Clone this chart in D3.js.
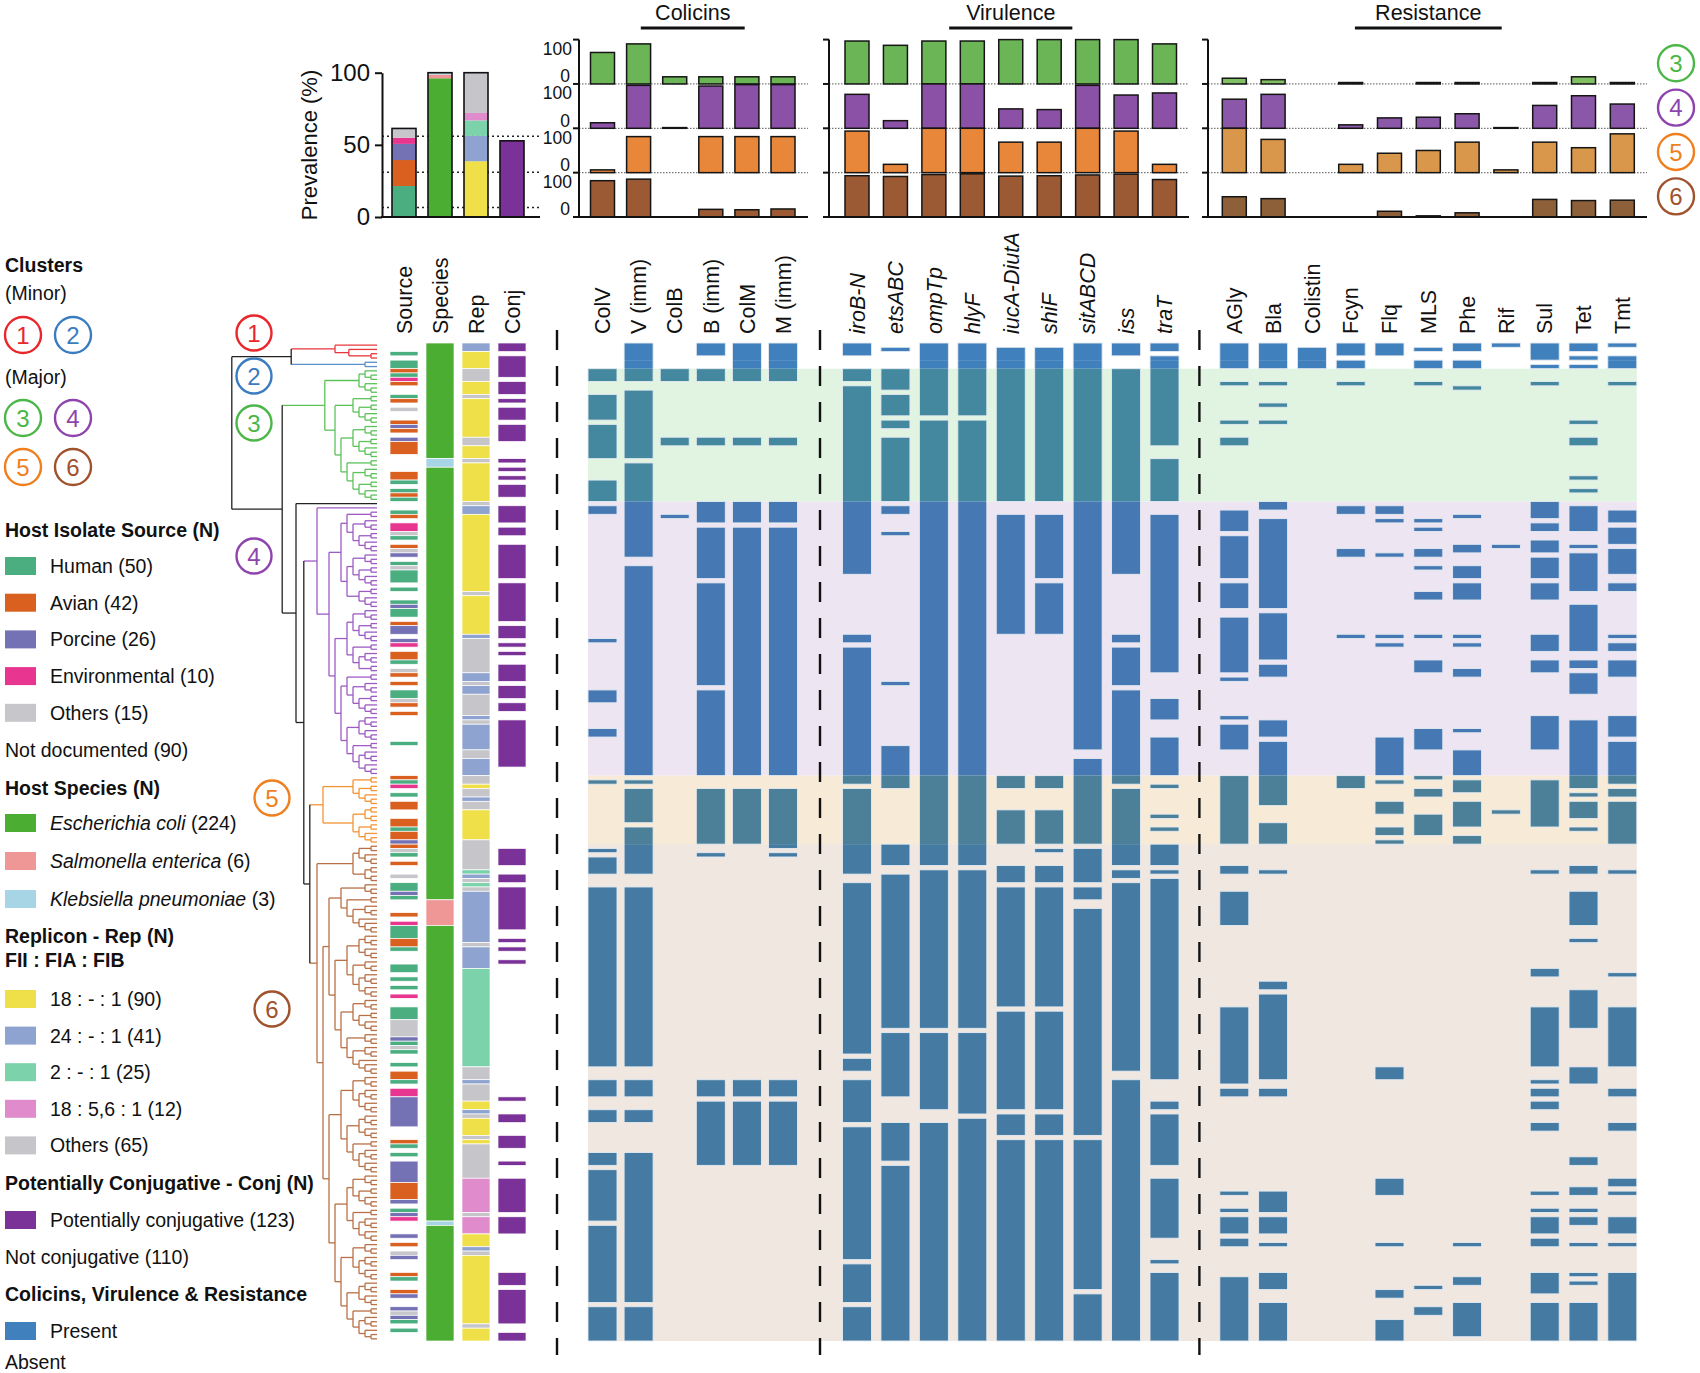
<!DOCTYPE html>
<meta charset="utf-8">
<style>
body { margin: 0; background: #fff; }
text { font-family: 'Liberation Sans', Arial, Helvetica, sans-serif; fill: #111; }
.lg { font-size: 19.5px; }
.hd { font-size: 19.5px; font-weight: bold; }
.col { font-size: 21.5px; }
</style>
<body>
<script src="https://d3js.org/d3.v7.min.js"></script>
<script>
// ---------- data ----------
const nRows = 233;
const clusterBreaks = [0, 4, 6, 37, 101, 117, 233];   // rows of clusters 1..6
const majorClusters = [2, 3, 4, 5];                    // clusters 3..6 in the bar panels

const sourceCats = ["Human", "Avian", "Porcine", "Environmental", "Others"];
const sourceCounts = [50, 42, 26, 10, 15];
const sourceCodes = ["H", "A", "P", "E", "O"];
const speciesCats = ["Escherichia coli", "Salmonella enterica", "Klebsiella pneumoniae"];
const speciesCounts = [224, 6, 3];
const speciesCodes = ["E", "S", "K"];
const repCats = ["18 : - : 1", "24 : - : 1", "2 : - : 1", "18 : 5,6 : 1", "Others"];
const repCounts = [90, 41, 25, 12, 65];
const repCodes = ["Y", "B", "M", "P", "O"];
const conjCount = 123, notConjCount = 110, notDocCount = 90;
const prevDotted = [56, 31, 6.5];

const annotCols = ["Source", "Species", "Rep", "Conj"];
const colicinCols = ["ColV", "V (imm)", "ColB", "B (imm)", "ColM", "M (imm)"];
const virulenceCols = ["iroB-N", "etsABC", "ompTp", "hlyF", "iucA-DiutA", "shiF", "sitABCD", "iss", "traT"];
const resistanceCols = ["AGly", "Bla", "Colistin", "Fcyn", "Flq", "MLS", "Phe", "Rif", "Sul", "Tet", "Tmt"];

// annotation columns: [code, firstRow, endRow)
const sourceRuns = [
 ["H",2,3],["H",4,6],["A",6,7],["H",7,8],["E",8,9],["A",9,10],["H",12,13],["A",13,14],["O",15,16],
 ["A",18,19],["P",19,20],["A",20,21],["P",22,23],["A",23,26],["A",30,32],["H",32,33],["H",34,35],
 ["A",35,36],["H",36,37],["H",39,40],["A",40,41],["E",42,44],["O",44,45],["H",45,46],["A",47,48],
 ["O",48,49],["P",49,50],["H",51,52],["O",52,53],["H",53,56],["H",57,58],["H",60,61],["P",61,62],
 ["H",62,64],["A",65,66],["P",66,68],["P",69,70],["E",70,71],["A",72,74],["H",74,75],["O",76,77],
 ["A",77,78],["A",79,80],["H",81,83],["O",83,84],["A",84,85],["A",86,87],["H",93,94],["A",101,102],
 ["H",102,103],["E",103,104],["H",105,106],["A",107,109],["A",111,113],["H",113,114],["A",114,116],
 ["P",116,117],["A",117,118],["O",118,119],["H",119,120],["A",121,122],["O",124,125],["H",126,128],
 ["P",128,129],["H",129,130],["A",133,134],["E",135,136],["H",136,139],["A",139,141],["H",141,142],
 ["H",145,147],["H",148,149],["H",150,151],["E",152,153],["H",155,158],["O",158,162],["P",162,163],
 ["H",163,164],["O",164,165],["H",165,166],["H",168,169],["A",170,172],["H",172,173],["E",174,176],
 ["P",176,183],["A",186,187],["H",187,188],["H",189,190],["P",191,196],["A",196,200],["P",200,201],
 ["H",202,203],["P",203,204],["E",204,205],["P",208,209],["A",210,211],["O",212,213],["P",213,214],
 ["A",217,218],["H",218,219],["A",221,222],["P",222,223],["P",225,226],["O",226,227],["P",227,228],
 ["H",228,229],["H",230,231]
];
const speciesRuns = [["E",0,27],["K",27,29],["E",29,130],["S",130,136],["E",136,205],["K",205,206],["E",206,233]];
const repRuns = [
 ["B",0,2],["Y",2,6],["O",6,9],["Y",9,12],["O",12,13],["Y",13,22],["O",22,24],["Y",24,27],["O",27,28],
 ["Y",28,37],["O",37,38],["B",38,40],["Y",40,58],["O",58,59],["Y",59,68],["B",68,69],["O",69,77],
 ["B",77,79],["O",79,80],["B",80,82],["O",82,87],["B",87,88],["O",88,89],["B",89,95],["O",95,97],
 ["B",97,101],["O",101,103],["Y",103,104],["O",104,106],["B",106,107],["O",107,109],["Y",109,116],
 ["O",116,123],["M",123,124],["B",124,125],["O",125,126],["M",126,127],["O",127,128],["B",128,140],
 ["O",140,141],["B",141,146],["M",146,169],["O",169,172],["B",172,173],["O",173,177],["Y",177,179],
 ["B",179,180],["O",180,181],["Y",181,185],["O",185,186],["Y",186,187],["O",187,195],["P",195,203],
 ["O",203,204],["P",204,208],["Y",208,211],["B",211,212],["O",212,213],["Y",213,229],["O",229,230],["Y",230,233]
];
const conjRuns = [[0,2],[3,8],[9,12],[13,14],[15,18],[19,23],[27,28],[29,30],[31,32],[33,36],[38,42],[43,45],
 [47,55],[56,65],[66,69],[70,71],[72,73],[75,79],[80,83],[84,86],[88,99],[118,122],[124,126],[127,137],
 [139,140],[141,142],[144,145],[176,177],[180,182],[185,188],[191,192],[195,203],[204,208],[217,220],
 [221,229],[231,233]];

// presence runs [firstRow, endRow) per gene, in column order
const colicinRuns = [
 [[6,9],[12,18],[19,27],[32,37],[38,40],[69,70],[81,84],[90,92],[102,103],[118,119],[120,124],[127,169],[172,176],[179,182],[189,192],[193,205],[206,224],[225,233]],
 [[0,9],[11,27],[28,50],[52,101],[102,103],[104,112],[113,124],[127,169],[172,176],[179,182],[189,224],[225,233]],
 [[6,9],[22,24],[40,41]],
 [[0,3],[6,9],[22,24],[37,42],[43,55],[56,80],[81,101],[104,117],[119,120],[172,176],[177,192]],
 [[0,9],[22,24],[37,42],[43,101],[104,117],[172,176],[177,192]],
 [[0,9],[22,24],[37,42],[43,101],[104,118],[119,120],[172,176],[177,192]]
];
const virulenceRuns = [
 [[0,3],[6,9],[10,54],[68,70],[71,103],[104,124],[126,166],[167,170],[172,182],[183,214],[215,224],[225,233]],
 [[1,2],[6,11],[12,17],[18,20],[22,37],[38,40],[44,45],[79,80],[94,104],[117,122],[124,160],[161,176],[182,191],[192,233]],
 [[0,17],[18,122],[123,160],[161,179],[182,233]],
 [[0,17],[18,122],[123,160],[161,180],[181,233]],
 [[1,37],[40,68],[101,104],[109,117],[122,126],[127,155],[156,179],[180,185],[186,233]],
 [[1,37],[40,55],[56,68],[101,104],[109,117],[118,119],[122,126],[127,155],[156,179],[180,185],[186,233]],
 [[0,95],[97,117],[118,126],[127,130],[132,185],[186,221],[222,233]],
 [[0,3],[6,54],[68,70],[71,80],[81,103],[104,122],[123,125],[126,170],[172,233]],
 [[0,2],[3,24],[27,37],[40,77],[83,88],[92,101],[103,104],[110,111],[113,114],[117,122],[123,124],[125,172],[177,179],[180,192],[195,209],[214,215],[217,233]]
];
const resistanceRuns = [
 [[0,6],[9,10],[18,19],[22,24],[39,44],[45,55],[56,62],[64,77],[78,79],[87,88],[89,95],[101,117],[122,124],[128,136],[155,173],[174,176],[198,199],[202,203],[204,208],[209,211],[218,233]],
 [[0,6],[9,10],[14,15],[18,19],[37,39],[41,62],[63,74],[75,78],[88,92],[93,108],[112,117],[123,124],[149,151],[152,172],[174,176],[198,203],[204,208],[210,211],[217,221],[224,233]],
 [[1,6]],
 [[0,3],[4,6],[9,10],[38,40],[48,50],[68,69],[101,104]],
 [[0,3],[38,40],[41,42],[49,50],[68,69],[70,71],[92,101],[102,103],[107,110],[113,115],[116,117],[169,172],[195,199],[210,211],[221,223],[228,233]],
 [[1,2],[4,6],[9,10],[41,42],[43,44],[48,50],[52,53],[58,60],[68,69],[74,77],[90,95],[101,102],[104,106],[110,115],[220,221],[225,227]],
 [[0,2],[4,6],[10,11],[40,41],[47,49],[52,55],[56,60],[68,69],[70,71],[76,78],[90,91],[95,101],[102,105],[107,113],[115,117],[210,211],[218,220],[224,232]],
 [[0,1],[47,48],[109,110]],
 [[0,4],[5,6],[9,10],[37,41],[42,44],[46,49],[50,55],[56,60],[68,72],[74,77],[87,95],[102,113],[123,124],[146,148],[155,169],[172,173],[174,176],[177,179],[182,184],[198,199],[202,203],[204,208],[209,211],[217,222],[224,233]],
 [[0,2],[3,4],[5,6],[18,19],[22,24],[31,32],[34,35],[38,44],[47,48],[49,58],[61,72],[74,76],[77,82],[88,104],[105,106],[107,111],[113,114],[122,124],[128,136],[139,140],[151,160],[169,173],[190,192],[197,199],[202,203],[204,206],[210,211],[217,218],[219,220],[224,233]],
 [[0,1],[3,6],[9,10],[39,42],[43,47],[48,54],[56,58],[68,69],[70,72],[74,78],[87,92],[93,103],[104,106],[107,117],[123,124],[147,148],[155,169],[174,176],[182,184],[195,197],[198,199],[204,208],[210,211],[217,233]]
];

// dendrogram: numbers = ladder clades of n leaves, age = node height
const treeC1 = {cl: 0, age: 7, kids: [1, {age: 4.7, kids: [1, 2]}]};
const treeC2 = {cl: 1, age: 2, kids: [1, 1]};
const treeC3 = {cl: 2, age: 8.7, kids: [[[1,2],[1,2]], [[2,[2,3]],[[3,[2,3]],[2,[3,[2,3]]]]]]};
const treeC4 = {cl: 3, age: 10, kids: [1, [[[2,[3,[2,3]]],[[3,[2,3]],[2,3]]],
  [[[3,[2,3]],[2,[3,2]]],[[2,[3,[2,3]]],[[3,3],[2,[3,3]]]]]]]};
const treeC5 = {cl: 4, age: 9, kids: [[2,[2,3]],[[2,2],[2,3]]]};
const treeC6 = {cl: 5, age: 10, kids: [[[2,[1,2]],[2,2]],
  [[[3,[2,[3,4]]],[[[3,3],[3,[3,3]]],[[3,[2,3]],[3,[3,4]]]]],
   [[[3,[3,3]],[[3,3],[2,[3,3]]]],[[[3,[2,3]],[2,[3,3]]],[[3,[3,3]],[[3,3],[2,[3,3]]]]]]]]};
const treeRoot = {cl: -1, age: 24.2, kids: [
  {age: 14.3, kids: [treeC1, treeC2]},
  {age: 15.8, kids: [treeC3, {age: 13.5, kids: [1, {age: 12, kids: [treeC4, {age: 11.2, kids: [treeC5, treeC6]}]}]}]}
]};

// ---------- styles ----------
const FONT = "'Liberation Sans', Arial, Helvetica, sans-serif";
const sourceColors = ["#4aae80", "#d9601f", "#7571b5", "#e8358f", "#c6c6cb"];
const speciesColors = ["#4cad33", "#ef9696", "#a8d5e6"];
const repColors = ["#efe04a", "#8ea3cf", "#7bd2ab", "#df8bcc", "#c6c6ca"];
const conjColor = "#7a3298";
const clusterColors = ["#e8262c", "#3b7cc0", "#4cb748", "#8e44ad", "#f07f1f", "#a0522d"];
const treeColors = ["#e8363c", "#5b8fc8", "#5cc25a", "#9d5bc4", "#f39436", "#b87046"];
const cellColors = ["#4080bd", "#4080bd", "#44889f", "#4679b3", "#4c8099", "#457ba2"];
const shadeColors = [null, null, "#e0f4e1", "#ede5f2", "#f7ebd8", "#efe7e0"];
const barColors = ["#6cb556", "#8b51a6", "#e8873a", "#9b5a34"];
const resBarColors = ["#80bf62", "#8b57a8", "#d9974c", "#8e603a"];
const presentColor = "#4080bd";

const W = 1700, H = 1373;
const svg = d3.select("body").append("svg").attr("width", W).attr("height", H)
  .style("font-family", FONT);

// ---------- scales ----------
const yRow = d3.scaleLinear().domain([0, nRows]).range([343, 1341]);
const annotX = d3.scalePoint().domain(annotCols).range([404, 512]);
const colX = d3.scalePoint().domain(colicinCols).range([602.5, 783]);
const virX = d3.scalePoint().domain(virulenceCols).range([857, 1164.5]);
const resX = d3.scalePoint().domain(resistanceCols).range([1234.3, 1622.3]);
const cellW = 29, annotW = 28, barW = 24;

const groups = [
  {title: "Colicins", cols: colicinCols, runs: colicinRuns, x: colX, italic: false, axisX: 579, end: 808, colors: barColors, ticks: true},
  {title: "Virulence", cols: virulenceCols, runs: virulenceRuns, x: virX, italic: true, axisX: 829, end: 1189, colors: barColors, ticks: false},
  {title: "Resistance", cols: resistanceCols, runs: resistanceRuns, x: resX, italic: false, axisX: 1208, end: 1647, colors: resBarColors, ticks: false}
];

function prevalence(runs, c) {
  const a = clusterBreaks[c], b = clusterBreaks[c + 1];
  let n = 0;
  runs.forEach(([s, e]) => { n += Math.max(0, Math.min(e, b) - Math.max(s, a)); });
  return n / (b - a) * 100;
}

function clusterCircle(g, x, y, c, r) {
  g.append("circle").attr("cx", x).attr("cy", y).attr("r", r)
    .attr("fill", "#fff").attr("stroke", clusterColors[c]).attr("stroke-width", 2.4);
  g.append("text").attr("x", x).attr("y", y).attr("dy", "0.36em").attr("text-anchor", "middle")
    .attr("font-size", 24).style("fill", clusterColors[c]).text(c + 1);
}

// ---------- top-left prevalence ----------
const yPrev = d3.scaleLinear().domain([0, 100]).range([217, 72.7]);
const gPrev = svg.append("g");
gPrev.selectAll("line.dot").data(prevDotted).join("line")
  .attr("x1", 382).attr("x2", 540).attr("y1", d => yPrev(d)).attr("y2", d => yPrev(d))
  .attr("stroke", "#222").attr("stroke-width", 1.5).attr("stroke-dasharray", "2,3");

const stacks = [
  {col: "Source", counts: sourceCounts, colors: sourceColors},
  {col: "Species", counts: speciesCounts, colors: speciesColors},
  {col: "Rep", counts: repCounts, colors: repColors},
  {col: "Conj", counts: [conjCount], colors: [conjColor]}
];
stacks.forEach(s => {
  const x0 = annotX(s.col) - barW / 2;
  let acc = 0;
  s.counts.forEach((c, i) => {
    const v0 = acc / nRows * 100, v1 = (acc + c) / nRows * 100;
    acc += c;
    gPrev.append("rect").attr("x", x0).attr("width", barW)
      .attr("y", yPrev(v1)).attr("height", yPrev(v0) - yPrev(v1)).attr("fill", s.colors[i]);
  });
  const top = acc / nRows * 100;
  gPrev.append("rect").attr("x", x0).attr("width", barW)
    .attr("y", yPrev(top)).attr("height", yPrev(0) - yPrev(top))
    .attr("fill", "none").attr("stroke", "#111").attr("stroke-width", 1.6);
});
const axPrev = gPrev.append("g").attr("transform", "translate(382,0)")
  .call(d3.axisLeft(yPrev).tickValues([0, 50, 100]).tickSize(7).tickPadding(5).tickSizeOuter(0))
  .attr("font-size", 24).attr("font-family", FONT);
axPrev.select(".domain").attr("stroke-width", 2).attr("stroke", "#111");
axPrev.selectAll(".tick line").attr("stroke-width", 2).attr("stroke", "#111");
gPrev.append("line").attr("x1", 381).attr("x2", 540).attr("y1", 217).attr("y2", 217)
  .attr("stroke", "#111").attr("stroke-width", 2);
gPrev.append("text").attr("transform", "translate(317,145) rotate(-90)")
  .attr("text-anchor", "middle").attr("font-size", 22).text("Prevalence (%)");

// ---------- cluster bar panels ----------
const panelTop = 39.6, panelH = 44.35;
const gBars = svg.append("g");
groups.forEach(g => {
  majorClusters.forEach((c, i) => {
    const base = panelTop + (i + 1) * panelH;
    if (i < 3) {
      gBars.append("line").attr("x1", g.axisX).attr("x2", g.end).attr("y1", base).attr("y2", base)
        .attr("stroke", "#777").attr("stroke-width", 1.2).attr("stroke-dasharray", "1.5,1.5");
    }
  });
  majorClusters.forEach((c, i) => {
    const base = panelTop + (i + 1) * panelH;
    const y = d3.scaleLinear().domain([0, 100]).range([base, base - panelH]);
    g.cols.forEach((col, j) => {
      const v = prevalence(g.runs[j], c);
      if (v <= 0) return;
      gBars.append("rect").attr("x", g.x(col) - barW / 2).attr("width", barW)
        .attr("y", y(v)).attr("height", base - y(v))
        .attr("fill", g.colors[i]).attr("stroke", "#151515").attr("stroke-width", 1.5);
    });
    if (g.ticks) {
      gBars.append("text").attr("x", g.axisX - 7).attr("y", base - panelH + 9).attr("dy", "0.36em")
        .attr("text-anchor", "end").attr("font-size", 17.5).text("100");
      gBars.append("text").attr("x", g.axisX - 9).attr("y", base - 8).attr("dy", "0.36em")
        .attr("text-anchor", "end").attr("font-size", 17.5).text("0");
    }
  });
  gBars.append("line").attr("x1", g.axisX).attr("x2", g.axisX)
    .attr("y1", panelTop).attr("y2", panelTop + 4 * panelH + 1)
    .attr("stroke", "#111").attr("stroke-width", 2);
  d3.range(5).forEach(k => {
    gBars.append("line").attr("x1", g.axisX - 6).attr("x2", g.axisX)
      .attr("y1", panelTop + k * panelH).attr("y2", panelTop + k * panelH)
      .attr("stroke", "#111").attr("stroke-width", 2);
  });
  gBars.append("line").attr("x1", g.axisX - 6).attr("x2", g.end)
    .attr("y1", panelTop + 4 * panelH).attr("y2", panelTop + 4 * panelH)
    .attr("stroke", "#111").attr("stroke-width", 2);

  // group title
  const cx = (g.x(g.cols[0]) + g.x(g.cols[g.cols.length - 1])) / 2;
  const t = svg.append("text").attr("x", cx).attr("y", 20).attr("text-anchor", "middle")
    .attr("font-size", 21.5).text(g.title);
  const tw = t.node().getComputedTextLength() * 1.38;
  svg.append("line").attr("x1", cx - tw / 2).attr("x2", cx + tw / 2).attr("y1", 28).attr("y2", 28)
    .attr("stroke", "#111").attr("stroke-width", 3);
});
majorClusters.forEach((c, i) => clusterCircle(svg, 1676, panelTop + i * panelH + panelH / 2 + 1.5, c, 18));

// ---------- heatmap ----------
const gHeat = svg.append("g");
const heatX0 = colX(colicinCols[0]) - cellW / 2;
const heatX1 = resX(resistanceCols[resistanceCols.length - 1]) + cellW / 2;
majorClusters.forEach(c => {
  gHeat.append("rect").attr("x", heatX0).attr("width", heatX1 - heatX0)
    .attr("y", yRow(clusterBreaks[c])).attr("height", yRow(clusterBreaks[c + 1]) - yRow(clusterBreaks[c]))
    .attr("fill", shadeColors[c]);
});
groups.forEach(g => {
  g.cols.forEach((col, j) => {
    const x = g.x(col) - cellW / 2;
    g.runs[j].forEach(([s, e]) => {
      for (let c = 0; c < 6; c++) {
        const a = Math.max(s, clusterBreaks[c]), b = Math.min(e, clusterBreaks[c + 1]);
        if (b > a) {
          gHeat.append("rect").attr("x", x).attr("width", cellW)
            .attr("y", yRow(a)).attr("height", yRow(b) - yRow(a)).attr("fill", cellColors[c]);
        }
      }
      gHeat.append("rect").attr("x", x).attr("width", cellW)
        .attr("y", yRow(s)).attr("height", yRow(e) - yRow(s))
        .attr("fill", "none").attr("stroke", "#e4eaf1").attr("stroke-width", 0.9);
    });
  });
});

// ---------- annotation columns ----------
const gAnn = svg.append("g");
function drawCodedRuns(runs, col, codes, colors) {
  const x = annotX(col) - annotW / 2;
  gAnn.selectAll(null).data(runs).join("rect")
    .attr("x", x).attr("width", annotW)
    .attr("y", d => yRow(d[1])).attr("height", d => yRow(d[2]) - yRow(d[1]))
    .attr("fill", d => colors[codes.indexOf(d[0])])
    .attr("stroke", "#fff").attr("stroke-width", 0.7);
}
drawCodedRuns(sourceRuns, "Source", sourceCodes, sourceColors);
drawCodedRuns(speciesRuns, "Species", speciesCodes, speciesColors);
drawCodedRuns(repRuns, "Rep", repCodes, repColors);
gAnn.selectAll(null).data(conjRuns).join("rect")
  .attr("x", annotX("Conj") - annotW / 2).attr("width", annotW)
  .attr("y", d => yRow(d[0])).attr("height", d => yRow(d[1]) - yRow(d[0]))
  .attr("fill", conjColor).attr("stroke", "#fff").attr("stroke-width", 0.7);

// ---------- column labels ----------
function colLabel(x, txt, italic) {
  svg.append("text").attr("class", "col")
    .attr("transform", `translate(${x},334) rotate(-90)`)
    .attr("dy", "0.36em").attr("text-anchor", "start")
    .style("font-style", italic ? "italic" : "normal").text(txt);
}
annotCols.forEach(c => colLabel(annotX(c), c, false));
groups.forEach(g => g.cols.forEach(c => colLabel(g.x(c), c, g.italic)));

// dashed separators
const sepX = [
  (annotX("Conj") + annotW / 2 + colX(colicinCols[0]) - cellW / 2) / 2,
  (colX(colicinCols[5]) + cellW / 2 + virX(virulenceCols[0]) - cellW / 2) / 2,
  (virX(virulenceCols[8]) + cellW / 2 + resX(resistanceCols[0]) - cellW / 2) / 2
];
svg.selectAll("line.sep").data(sepX).join("line")
  .attr("x1", d => d).attr("x2", d => d).attr("y1", 330).attr("y2", 1355)
  .attr("stroke", "#111").attr("stroke-width", 2.4).attr("stroke-dasharray", "20,16");

// ---------- dendrogram ----------
function build(d, cl) {
  if (typeof d === "number") {
    if (d === 1) return {cl};
    return {cl, children: [{cl}, build(d - 1, cl)]};
  }
  if (Array.isArray(d)) return {cl, children: d.map(k => build(k, cl))};
  const c2 = d.cl !== undefined ? d.cl : cl;
  return {cl: c2, age: d.age, children: d.kids.map(k => build(k, c2))};
}
const tipX = 377, unit = 6;
const root = d3.hierarchy(build(treeRoot, -1));
root.leaves().forEach((l, i) => { l.py = yRow(i + 0.5); });
root.eachAfter(n => {
  if (!n.children) { n.h = 0; return; }
  n.h = Math.max(n.data.age || 0, 1 + d3.max(n.children, c => c.h));
  n.py = (n.children[0].py + n.children[n.children.length - 1].py) / 2;
});
root.each(n => { n.px = tipX - n.h * unit; });
const tcol = cl => cl < 0 ? "#222" : treeColors[cl];
const gTree = svg.append("g").attr("fill", "none").attr("stroke-width", 1.3);
gTree.selectAll("path.h").data(root.descendants().filter(n => n.parent)).join("path")
  .attr("d", n => `M${n.parent.px},${n.py}H${n.px}`)
  .attr("stroke", n => tcol(n.data.cl));
gTree.selectAll("path.v").data(root.descendants().filter(n => n.children)).join("path")
  .attr("d", n => `M${n.px},${n.children[0].py}V${n.children[n.children.length - 1].py}`)
  .attr("stroke", n => tcol(n.data.cl));

const treeLabels = [[0, 254, 333], [1, 254, 376], [2, 254, 423], [3, 254, 556], [4, 272, 798], [5, 272, 1009]];
treeLabels.forEach(([c, x, y]) => clusterCircle(svg, x, y, c, 17.5));

// ---------- legend ----------
const gLeg = svg.append("g");
const swX = 5, swW = 31, swH = 18, txX = 50;
function header(y, txt) { gLeg.append("text").attr("class", "hd").attr("x", 5).attr("y", y).attr("dy", "0.36em").text(txt); }
function plain(y, txt) { gLeg.append("text").attr("class", "lg").attr("x", 5).attr("y", y).attr("dy", "0.36em").text(txt); }
function item(y, color, txt, italicPart) {
  gLeg.append("rect").attr("x", swX).attr("y", y - swH / 2).attr("width", swW).attr("height", swH).attr("fill", color);
  const t = gLeg.append("text").attr("class", "lg").attr("x", txX).attr("y", y).attr("dy", "0.36em");
  if (italicPart) {
    t.append("tspan").style("font-style", "italic").text(italicPart);
    t.append("tspan").text(txt);
  } else t.text(txt);
}
header(265, "Clusters");
plain(293, "(Minor)");
clusterCircle(gLeg, 23, 335, 0, 18); clusterCircle(gLeg, 73, 335, 1, 18);
plain(377, "(Major)");
clusterCircle(gLeg, 23, 418, 2, 18); clusterCircle(gLeg, 73, 418, 3, 18);
clusterCircle(gLeg, 23, 467, 4, 18); clusterCircle(gLeg, 73, 467, 5, 18);

header(530, "Host Isolate Source (N)");
sourceCats.forEach((c, i) => item(566 + i * 36.7, sourceColors[i], `${c} (${sourceCounts[i]})`));
plain(750, `Not documented (${notDocCount})`);

header(788, "Host Species (N)");
speciesCats.forEach((c, i) => item(823 + i * 38, speciesColors[i], ` (${speciesCounts[i]})`, c));

header(936, "Replicon - Rep (N)");
header(960, "FII : FIA : FIB");
repCats.forEach((c, i) => item(999 + i * 36.6, repColors[i], `${c} (${repCounts[i]})`));

header(1183, "Potentially Conjugative - Conj (N)");
item(1220, conjColor, `Potentially conjugative (${conjCount})`);
plain(1257, `Not conjugative (${notConjCount})`);

header(1294, "Colicins, Virulence & Resistance");
item(1331, presentColor, "Present");
plain(1362, "Absent");
</script>
</body>
